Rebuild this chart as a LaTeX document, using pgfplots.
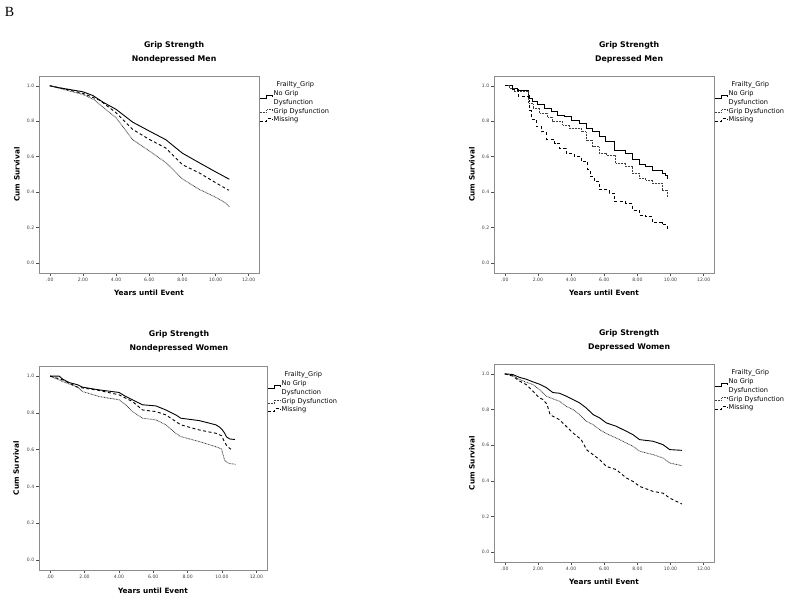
\documentclass[border=0pt]{standalone}
\usepackage{pgfplots}
\pgfplotsset{compat=1.18}
\usepackage{fontspec}
\setmainfont{DejaVu Sans}
\newfontfamily\serifB{Liberation Serif}

\pgfplotsset{
  kmaxis/.style={
    scale only axis,
    xmin=-0.65, xmax=12.62, ymin=-0.055, ymax=1.055,
    xtick={0,2,4,6,8,10,12},
    xticklabels={.00,2.00,4.00,6.00,8.00,10.00,12.00},
    ytick={0,0.2,0.4,0.6,0.8,1},
    yticklabels={0.0,0.2,0.4,0.6,0.8,1.0},
    tick align=outside, major tick length=3pt,
    xtick pos=bottom, ytick pos=left,
    axis line style={black!45, line width=0.6pt},
    tick style={black!70, line width=0.5pt},
    ticklabel style={font=\fontsize{4.6}{5}\selectfont, text=black!75, inner sep=1.5pt},
    xlabel={Years until Event}, ylabel={Cum Survival},
    label style={font=\fontsize{7.3}{8}\selectfont\bfseries},
    xlabel style={at={(axis description cs:0.5,-0.1)}, anchor=center},
    ylabel style={at={(axis description cs:-0.1,0.5)}, anchor=center},
    title style={font=\fontsize{7.8}{14}\selectfont\bfseries, align=center,
      at={(axis description cs:0.614,1.036)}, anchor=south, inner sep=0pt},
    legend style={at={(axis description cs:1,0.975)}, anchor=north west,
      draw=none, fill=none, font=\fontsize{6.6}{7}\selectfont,
      inner sep=0pt, row sep=0.6pt, column sep=0pt,
      nodes={inner sep=0.6pt}},
    legend cell align=left,
    legend image code/.code={\draw[#1] (0pt,-1.5pt) -- (7pt,-1.5pt) -- (7pt,1.5pt) -- (13pt,1.5pt) -- (13pt,-0.5pt);},
    clip=false,
  },
  nogrip/.style={black, line width=0.9pt, solid,
    legend image code/.code={\draw[##1] (0pt,-4.8pt) -- (7pt,-4.8pt) -- (7pt,-1.8pt) -- (13pt,-1.8pt) -- (13pt,-3.8pt);}},
  grip/.style={black!75, line width=0.8pt, dash pattern=on 0.8pt off 0.7pt},
  missing/.style={black, line width=0.9pt, dash pattern=on 3pt off 2.5pt},
}

\newcommand{\legtitle}{\addlegendimage{empty legend}\addlegendentry{\hspace*{3pt}Frailty\_Grip\rule[-3.5pt]{0pt}{1pt}}}
\newcommand{\legdys}{\addlegendimage{empty legend}\addlegendentry{Dysfunction}}

\begin{document}
\begin{tikzpicture}
\path[use as bounding box] (0pt,0pt) rectangle (800pt,600pt);
\node[font=\fontsize{14}{14}\selectfont\serifB] at (9.5pt,588pt) {B};

% Panel 1: Nondepressed Men
\begin{axis}[kmaxis, at={(39pt,327pt)}, anchor=south west, width=220pt, height=197pt,
  title={Grip Strength\\Nondepressed Men}]
\legtitle
\addplot[nogrip] coordinates {(0,1.0) (0.5,0.99) (1.0,0.982) (2.0,0.966) (2.6,0.945) (3.2,0.908) (4.0,0.867) (5.0,0.795) (6.0,0.745) (7.0,0.696) (8.0,0.62) (9.0,0.567) (10.0,0.515) (10.5,0.49) (10.83,0.473)};
\addlegendentry{No Grip}
\legdys
\addplot[grip] coordinates {(0,1.0) (1.0,0.975) (2.0,0.951) (2.7,0.92) (3.0,0.895) (4.0,0.82) (5.0,0.696) (6.0,0.633) (7.0,0.567) (8.0,0.475) (9.0,0.417) (10.0,0.372) (10.6,0.34) (10.83,0.317)};
\addlegendentry{Grip Dysfunction}
\addplot[missing] coordinates {(0,1.0) (1.0,0.98) (2.0,0.957) (3.0,0.919) (4.0,0.848) (5.0,0.754) (6.0,0.698) (7.0,0.649) (8.0,0.555) (9.0,0.51) (10.0,0.454) (10.8,0.411)};
\addlegendentry{Missing}
\end{axis}

% Panel 2: Depressed Men
\begin{axis}[kmaxis, at={(494pt,327pt)}, anchor=south west, width=220pt, height=197pt,
  title={Grip Strength\\Depressed Men}]
\legtitle
\addplot[nogrip, const plot] coordinates {(0,1.0) (0.48,0.985) (0.75,0.976) (1.45,0.947) (1.5,0.929) (1.65,0.91) (2.0,0.895) (2.4,0.872) (2.8,0.854) (3.2,0.835) (3.6,0.826) (4.0,0.807) (4.5,0.788) (4.9,0.76) (5.3,0.741) (5.7,0.713) (6.1,0.685) (6.6,0.638) (7.3,0.619) (7.7,0.582) (8.1,0.559) (8.5,0.544) (8.9,0.525) (9.5,0.507) (9.7,0.495) (9.8,0.475) (9.85,0.475)};
\addlegendentry{No Grip}
\legdys
\addplot[grip, const plot] coordinates {(0,1.0) (0.28,0.985) (0.58,0.966) (1.45,0.90) (1.7,0.872) (2.1,0.844) (2.6,0.822) (2.9,0.797) (3.5,0.779) (3.9,0.76) (4.6,0.741) (4.9,0.694) (5.3,0.657) (5.7,0.619) (6.1,0.61) (6.7,0.563) (7.3,0.544) (7.7,0.507) (8.1,0.478) (8.5,0.469) (8.9,0.45) (9.5,0.413) (9.8,0.375) (9.85,0.375)};
\addlegendentry{Grip Dysfunction}
\addplot[missing, const plot] coordinates {(0,1.0) (0.45,0.98) (0.8,0.94) (1.45,0.92) (1.5,0.86) (1.6,0.81) (1.9,0.77) (2.2,0.74) (2.5,0.70) (3.0,0.675) (3.3,0.647) (3.7,0.619) (4.2,0.6) (4.6,0.572) (5.0,0.53) (5.15,0.49) (5.4,0.46) (5.7,0.413) (6.3,0.394) (6.6,0.347) (7.3,0.338) (7.7,0.3) (8.1,0.272) (8.5,0.263) (8.9,0.229) (9.5,0.216) (9.8,0.188) (9.85,0.188)};
\addlegendentry{Missing}
\end{axis}

% Panel 3: Nondepressed Women
\begin{axis}[kmaxis, at={(39pt,30pt)}, anchor=south west, width=228pt, height=204pt,
  title={Grip Strength\\Nondepressed Women},
  title style={at={(axis description cs:0.614,1.04)}}]
\legtitle
\addplot[nogrip] coordinates {(0,1.0) (0.52,1.0) (0.72,0.984) (1.1,0.965) (1.59,0.953) (1.88,0.94) (2.85,0.925) (4.01,0.911) (4.4,0.889) (4.79,0.871) (5.37,0.844) (6.15,0.838) (6.73,0.816) (7.31,0.789) (7.6,0.771) (8.67,0.758) (9.64,0.735) (9.87,0.722) (10.0,0.71) (10.15,0.69) (10.26,0.67) (10.45,0.658) (10.75,0.655)};
\addlegendentry{No Grip}
\legdys
\addplot[grip] coordinates {(0,1.0) (0.72,0.971) (1.59,0.94) (1.88,0.916) (2.85,0.889) (4.01,0.871) (4.4,0.844) (4.79,0.807) (5.37,0.771) (6.15,0.762) (6.73,0.735) (7.31,0.689) (7.6,0.671) (8.67,0.644) (9.64,0.616) (9.97,0.604) (10.16,0.54) (10.4,0.525) (10.8,0.52)};
\addlegendentry{Grip Dysfunction}
\addplot[missing] coordinates {(0,1.0) (0.72,0.98) (1.59,0.94) (2.85,0.922) (4.01,0.898) (4.4,0.88) (4.79,0.862) (5.37,0.816) (6.15,0.807) (6.73,0.789) (7.31,0.753) (7.6,0.735) (8.67,0.707) (9.64,0.689) (9.97,0.676) (10.16,0.64) (10.3,0.618) (10.55,0.60)};
\addlegendentry{Missing}
\end{axis}

% Panel 4: Depressed Women
\begin{axis}[kmaxis, at={(494pt,38pt)}, anchor=south west, width=220pt, height=198pt,
  title={Grip Strength\\Depressed Women},
  title style={at={(axis description cs:0.614,1.035)}}]
\legtitle
\addplot[nogrip] coordinates {(0,1.0) (0.48,0.996) (0.89,0.98) (1.29,0.97) (1.69,0.955) (2.09,0.942) (2.5,0.923) (2.9,0.895) (3.3,0.891) (3.7,0.875) (4.11,0.856) (4.51,0.837) (4.91,0.809) (5.32,0.772) (5.72,0.753) (6.12,0.725) (6.72,0.706) (7.33,0.678) (7.73,0.659) (8.13,0.631) (8.94,0.622) (9.54,0.603) (9.95,0.575) (10.69,0.571)};
\addlegendentry{No Grip}
\legdys
\addplot[grip] coordinates {(0,1.0) (0.48,0.99) (0.89,0.968) (1.29,0.953) (1.69,0.94) (2.09,0.912) (2.5,0.875) (2.9,0.86) (3.3,0.846) (3.7,0.818) (4.11,0.8) (4.51,0.772) (4.91,0.734) (5.32,0.715) (5.72,0.687) (6.12,0.665) (6.72,0.64) (7.33,0.612) (7.73,0.594) (8.13,0.566) (8.94,0.547) (9.54,0.528) (9.95,0.5) (10.69,0.485)};
\addlegendentry{Grip Dysfunction}
\addplot[missing] coordinates {(0,1.0) (0.48,0.987) (0.89,0.959) (1.29,0.94) (1.69,0.903) (2.09,0.865) (2.3,0.856) (2.54,0.83) (2.74,0.77) (3.3,0.743) (3.7,0.706) (4.11,0.669) (4.61,0.631) (4.95,0.573) (5.32,0.547) (5.72,0.519) (6.12,0.481) (6.72,0.463) (7.33,0.416) (7.73,0.397) (8.13,0.369) (8.94,0.341) (9.54,0.331) (9.95,0.303) (10.69,0.27)};
\addlegendentry{Missing}
\end{axis}
\end{tikzpicture}
\end{document}
